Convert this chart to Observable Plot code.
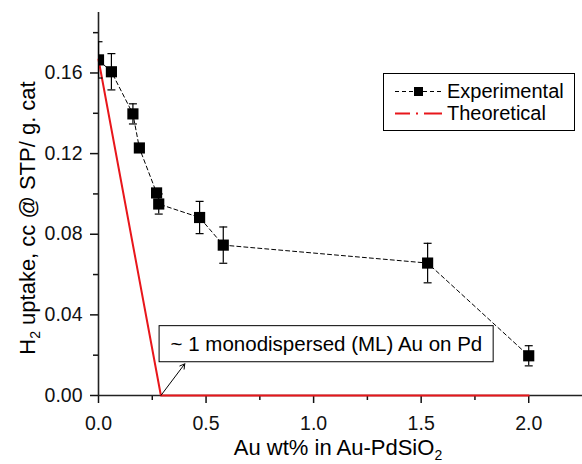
<!DOCTYPE html>
<html><head><meta charset="utf-8">
<script src="https://cdn.jsdelivr.net/npm/d3@7"></script>
<script src="https://cdn.jsdelivr.net/npm/@observablehq/plot@0.6"></script>
<style>
body{margin:0;background:#fff}
svg{font-family:"Liberation Sans",Arial,sans-serif}
</style>
</head><body><div id="chart"></div>
<script>
// Experimental series
const auWt     = [0, 0.06, 0.16, 0.19, 0.27, 0.28, 0.47, 0.58, 1.53, 2.0];
const h2Uptake = [0.1665, 0.1606, 0.1397, 0.1228, 0.1005, 0.0950, 0.0883, 0.0746, 0.0657, 0.0197];
const h2Err    = [0.009, 0.009, 0.005, 0.002, 0.002, 0.005, 0.008, 0.009, 0.0098, 0.005];
// Theoretical series
const theoAuWt    = [0, 0.29, 2.0];
const theoUptake  = [0.1667, 0, 0];
// Ticks
const xMajorTicks = [0, 0.5, 1.0, 1.5, 2.0];
const xMinorTicks = [0.25, 0.75, 1.25, 1.75];
const yMajorTicks = [0, 0.04, 0.08, 0.12, 0.16];
const yMinorTicks = [0.02, 0.06, 0.10, 0.14, 0.18];
// Text
const seriesNames = ["Experimental", "Theoretical"];
const annotationText = "~ 1 monodispersed (ML) Au on Pd";
const annotationBox = [{x1: 0.284, x2: 1.837, y1: 0.0165, y2: 0.0344}];
const annotationArrow = [{x1: 0.29, y1: 0, x2: 0.401, y2: 0.0157}];

const exp = auWt.map((x, i) => ({x, y: h2Uptake[i], e: h2Err[i]}));
const theo = theoAuWt.map((x, i) => ({x, y: theoUptake[i]}));

const capSymbol = {draw(ctx, size) { const w = Math.sqrt(size); ctx.moveTo(-w / 2, 0); ctx.lineTo(w / 2, 0); }};
const RED = "#e8161b";

const plot = Plot.plot({
  width: 582, height: 464,
  marginLeft: 98, marginRight: 0, marginTop: 12, marginBottom: 69,
  x: {domain: [0, 2.25]},
  y: {domain: [0, 0.19]},
  style: {fontFamily: '"Liberation Sans", Arial, sans-serif', fontSize: "19px", color: "#111", background: "#fff"},
  marks: [
    Plot.axisX(xMajorTicks, {tickSize: 8, tickPadding: 13, tickFormat: d3.format(".1f"), fontSize: 19.5, label: null, strokeWidth: 1.5}),
    Plot.axisX(xMinorTicks, {tickSize: 5, tickFormat: () => "", label: null, strokeWidth: 1.5}),
    Plot.axisY(yMajorTicks, {tickSize: 8, tickPadding: 8, tickFormat: d3.format(".2f"), fontSize: 19.5, label: null, strokeWidth: 1.5}),
    Plot.axisY(yMinorTicks, {tickSize: 5, tickFormat: () => "", label: null, strokeWidth: 1.5}),
    Plot.ruleX([0], {stroke: "#222", strokeWidth: 1.6}),
    Plot.ruleY([0], {stroke: "#222", strokeWidth: 1.6}),
    Plot.line(theo, {x: "x", y: "y", stroke: RED, strokeWidth: 2}),
    Plot.line(exp, {x: "x", y: "y", stroke: "#000", strokeWidth: 1, strokeDasharray: "4,3", clip: true}),
    Plot.ruleX(exp, {x: "x", y1: d => d.y - d.e, y2: d => d.y + d.e, stroke: "#000", strokeWidth: 1.2, clip: true}),
    Plot.dot(exp, {x: "x", y: d => d.y + d.e, symbol: capSymbol, r: 4.5, stroke: "#000", strokeWidth: 1.2, clip: true}),
    Plot.dot(exp, {x: "x", y: d => d.y - d.e, symbol: capSymbol, r: 4.5, stroke: "#000", strokeWidth: 1.2, clip: true}),
    Plot.dot(exp, {x: "x", y: "y", symbol: "square", r: 6.3, fill: "#000", stroke: null, clip: true}),
    Plot.arrow(annotationArrow, {x1: "x1", y1: "y1", x2: "x2", y2: "y2", stroke: "#000", strokeWidth: 1, headLength: 8}),
    Plot.rect(annotationBox, {x1: "x1", x2: "x2", y1: "y1", y2: "y2", fill: "#fff", stroke: "#000", strokeWidth: 1}),
    Plot.text(annotationBox, {x: "x1", y: d => (d.y1 + d.y2) / 2, text: () => annotationText, textAnchor: "start", dx: 11, fontSize: 20.5, fill: "#000"})
  ]
});

document.getElementById("chart").appendChild(plot);
const svg = d3.select(plot);

// Axis titles
const xt = svg.append("text").attr("x", 338).attr("y", 455).attr("text-anchor", "middle")
  .attr("font-size", 22).attr("fill", "#000");
xt.append("tspan").text("Au wt% in Au-PdSiO");
xt.append("tspan").attr("dy", 5).attr("font-size", 14).text("2");

const yt = svg.append("text").attr("transform", "translate(35,218) rotate(-90)").attr("text-anchor", "middle")
  .attr("font-size", 22).attr("fill", "#000");
yt.append("tspan").text("H");
yt.append("tspan").attr("dy", 5).attr("font-size", 14).text("2");
yt.append("tspan").attr("dy", -5).text(" uptake, cc @ STP/ g. cat");

// Legend
const lg = svg.append("g").attr("text-anchor", "start");
lg.append("rect").attr("x", 383.5).attr("y", 73.5).attr("width", 191).attr("height", 57)
  .attr("fill", "#fff").attr("stroke", "#000").attr("stroke-width", 1);
lg.append("line").attr("x1", 395).attr("x2", 442).attr("y1", 91.5).attr("y2", 91.5)
  .attr("stroke", "#000").attr("stroke-dasharray", "4,3");
lg.append("rect").attr("x", 414).attr("y", 87).attr("width", 9).attr("height", 9).attr("fill", "#000");
lg.append("text").attr("x", 447).attr("y", 98).attr("font-size", 20).attr("fill", "#000").text(seriesNames[0]);
lg.append("line").attr("x1", 395).attr("x2", 442).attr("y1", 113.5).attr("y2", 113.5)
  .attr("stroke", RED).attr("stroke-width", 2).attr("stroke-dasharray", "15,6,2,6,20");
lg.append("text").attr("x", 447).attr("y", 120).attr("font-size", 20).attr("fill", "#000").text(seriesNames[1]);
</script>
</body></html>
